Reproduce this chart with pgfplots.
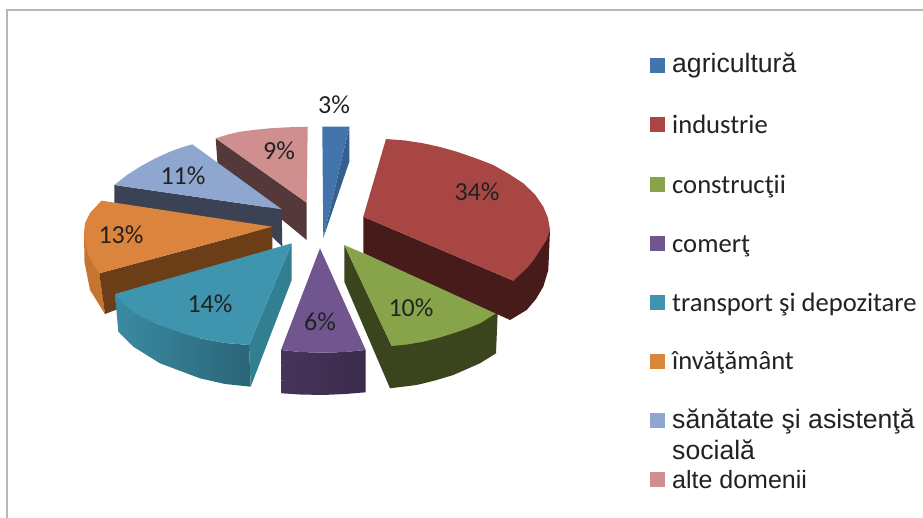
\documentclass[border=0pt]{standalone}
\usepackage{fontspec}
\setmainfont{Carlito}
\newfontfamily\arial{Liberation Sans}
\usepackage{pgfplots}
\pgfplotsset{compat=1.18}
\definecolor{bluT}{HTML}{4374AB}\definecolor{bluS}{HTML}{345F8F}
\definecolor{redT}{HTML}{A84644}\definecolor{redS}{HTML}{461B1A}
\definecolor{grnT}{HTML}{87A44B}\definecolor{grnS}{HTML}{3A451E}
\definecolor{purT}{HTML}{70558F}\definecolor{purA}{HTML}{46345A}\definecolor{purB}{HTML}{3A2C4C}
\definecolor{teaT}{HTML}{3F95AE}\definecolor{teaR}{HTML}{337F92}\definecolor{teaA}{HTML}{3A8BA2}\definecolor{teaB}{HTML}{2A6578}
\definecolor{oraT}{HTML}{DB843D}\definecolor{oraS}{HTML}{C5752F}\definecolor{oraD}{HTML}{6B3E17}
\definecolor{gryT}{HTML}{8FA7CF}\definecolor{gryS}{HTML}{3A4254}
\definecolor{pnkT}{HTML}{CE8F8E}\definecolor{pnkS}{HTML}{55393A}
\definecolor{txt}{HTML}{222222}
\newcommand\poly[2]{\addplot[draw=none,fill=#1] coordinates {#2} --cycle;}
\newcommand\val[2]{\node[font=\fontsize{26}{26}\selectfont,text=txt,inner sep=0pt] at (axis cs:#1) {#2};}
\newcommand\leg[3]{\node[font=\fontsize{26.6}{26.6}\selectfont,text=txt,inner sep=0pt,anchor=base west] at (axis cs:#1) {#2#3};}
\begin{document}
\begin{tikzpicture}
\begin{axis}[scale only axis,width=923pt,height=518pt,xmin=0,xmax=923,ymin=0,ymax=518,y dir=reverse,axis lines=none,clip=true]
% page extent
\poly{white}{(0,0)(923,0)(923,518)(0,518)}
% frame
\addplot[draw=black!28,line width=2.5pt] coordinates {(7,518) (7,10) (923,10)};
% pink
\poly{pnkS}{(215.7,138.3)(217.7,166.7)(306.7,240)(306.7,202.7)}
\poly{pnkT}{(215.7,138.3)(228,134.5)(240,131.7)(255,129.8)(270,128.3)(288,127.3)(307.7,126.7)(306.7,202.7)}
% blue-grey
\poly{gryS}{(114.3,185)(114.3,203)(272.3,237)(282.3,246.7)(281.7,209.3)}
\poly{gryT}{(192.3,144.3)(180,148)(170,151.7)(155,158.5)(140,166.7)(127,175)(114.3,185)(281.7,209.3)}
% orange
\poly{oraS}{(101.7,200.7)(90,213.3)(84,233.3)(84.5,262)(90,290)(105,314)(99.3,273.3)(88.3,253.3)}
\poly{oraD}{(272.3,226.7)(272.3,250)(105,314)(99.3,273.3)}
\poly{oraT}{(101.7,200.7)(90,213.3)(85,223)(84,233.3)(85,244)(88.3,253.3)(93,264)(99.3,273.3)(272.3,226.7)}
% teal
\addplot[draw=none,left color=teaA,right color=teaB] coordinates {(115,294)(118.3,331.7)(133.3,346.7)(160,363.3)(200,378.3)(225,384)(250.7,386.7)(249,345)(225,343)(200,338.3)(160,325)(133.3,311.7)} --cycle;
\poly{teaR}{(291.7,243.3)(291.7,280)(250.7,386.7)(249,345)}
\poly{teaT}{(291.7,243.3)(115,294)(123,303)(133.3,311.7)(146,319)(160,325)(180,332.5)(200,338.3)(225,343)(249,345)}
% purple
\addplot[draw=none,left color=purA,right color=purB] coordinates {(281,350)(281.7,393.3)(300,394.5)(323,395)(345,394)(365.7,392.3)(365.7,350)(345,352)(323.3,352.7)(300,352)} --cycle;
\poly{purT}{(320,248.3)(365.7,350)(345,352)(323.3,352.7)(300,352)(281,350)}
% green
\poly{grnS}{(344.3,245)(344.3,281.7)(390,388.3)(416.7,385)(435,380.5)(453.3,375)(480,363.3)(496,353.3)(497.7,312.3)(391.7,346)}
\poly{grnT}{(344.3,245)(497.7,312.3)(480,323.3)(467,328.5)(453.3,333.3)(438,338)(423.3,341.7)(407,344.5)(391.7,346)}
% red
\poly{redS}{(363.3,216.7)(363.3,253)(510,320)(526.7,310)(536,299)(543.3,286.7)(548.3,270)(550,230)(513.3,280.7)}
\poly{redT}{(386,139)(405,140.5)(423.3,143.3)(440,147)(456.7,151.7)(475,158)(493.3,165)(509,174)(523.3,183.3)(535,194.5)(543.3,206.7)(548,218)(550,230)(546.5,240)(540,250)(534,259.5)(526.7,268.3)(513.3,280.7)(363.3,216.7)}
% blue
\poly{bluS}{(349.3,126.7)(349.3,161.7)(323.3,238)}
\poly{bluT}{(322.3,126.7)(349.3,126.7)(323.3,238)}
% labels
\val{334,105}{3\%}
\val{477,191.5}{34\%}
\val{411,307.5}{10\%}
\val{320,321.5}{6\%}
\val{210,303.5}{14\%}
\val{121,234.5}{13\%}
\val{183,175.5}{11\%}
\val{279,150.5}{9\%}
% legend
\poly{bluT}{(650,58.3)(665,58.3)(665,73.3)(650,73.3)}
\poly{redT}{(650,117.3)(665,117.3)(665,132.3)(650,132.3)}
\poly{grnT}{(650,176.7)(665,176.7)(665,191.7)(650,191.7)}
\poly{purT}{(650,235.7)(665,235.7)(665,250.7)(650,250.7)}
\poly{teaT}{(650,295)(665,295)(665,310)(650,310)}
\poly{oraT}{(650,354)(665,354)(665,369)(650,369)}
\poly{gryT}{(650,413.3)(665,413.3)(665,428.3)(650,428.3)}
\poly{pnkT}{(650,471.7)(665,471.7)(665,486.7)(650,486.7)}
\leg{672,73}{\arial}{agricultură}
\leg{672,133.5}{}{industrie}
\leg{672,193.5}{}{construcţii}
\leg{672,253}{}{comerţ}
\leg{672,311.5}{}{transport şi depozitare}
\leg{672,369}{}{învăţământ}
\leg{672,428}{\arial}{sănătate şi asistenţă}
\leg{672,459}{\arial}{socială}
\leg{672,488}{\arial\fontsize{25}{25}\selectfont}{alte domenii}
\end{axis}
\end{tikzpicture}
\end{document}
